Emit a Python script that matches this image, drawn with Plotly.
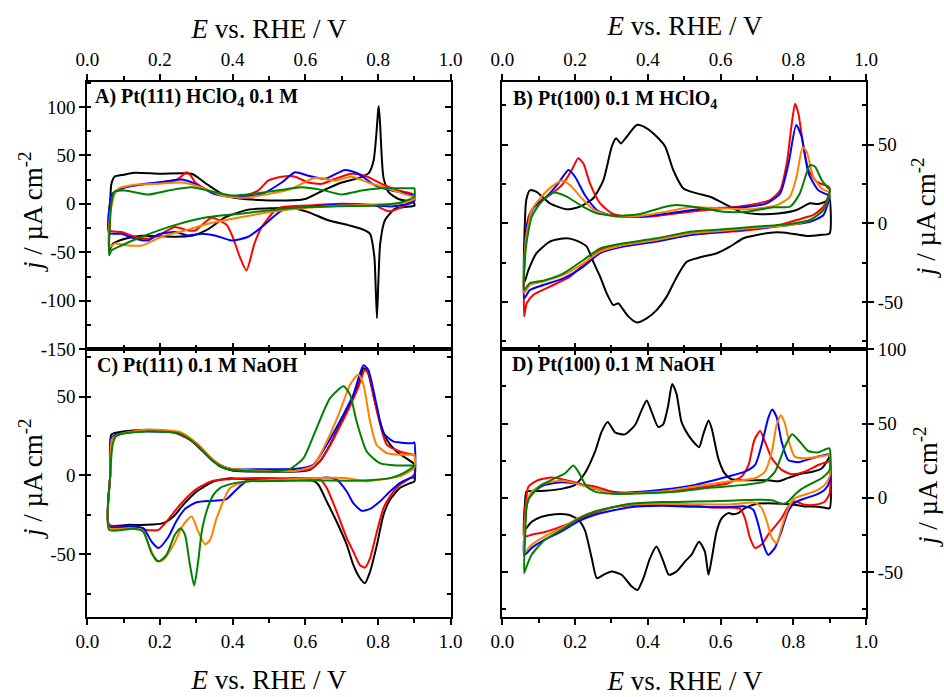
import plotly.graph_objects as go

# ---------------- Panel A: Pt(111) in 0.1 M HClO4 ----------------
A_black_E = [0.06, 0.062, 0.066, 0.075, 0.10, 0.13, 0.20, 0.287, 0.33, 0.379, 0.425, 0.52, 0.60, 0.65, 0.70, 0.75, 0.775, 0.788, 0.795, 0.80, 0.802, 0.806, 0.81, 0.815, 0.829, 0.856, 0.897, 0.90,
             0.90, 0.88, 0.847, 0.819, 0.806, 0.801, 0.797, 0.793, 0.79, 0.778, 0.755, 0.718, 0.663, 0.608, 0.562, 0.516, 0.443, 0.379, 0.333, 0.287, 0.241, 0.15, 0.104, 0.071, 0.06]
A_black_j = [-48, -20, 20, 28, 30, 32, 31, 31, 20, 8.6, 5.2, 3.4, 5, 14, 22, 27, 32, 45, 70, 95, 101, 80, 50, 27, 12, 5, 1.7, 0,
             -2, -3, -5, -17, -41, -80, -118, -80, -55, -31, -26, -22, -17, -8.6, -4, -4.5, -6, -14, -26, -33, -34, -33, -36, -41, -48]

A_red_E = [0.06, 0.062, 0.07, 0.104, 0.15, 0.195, 0.241, 0.258, 0.273, 0.285, 0.297, 0.333, 0.379, 0.425, 0.47, 0.498, 0.535, 0.572, 0.608, 0.645, 0.682, 0.727, 0.764, 0.81, 0.856, 0.897, 0.90,
           0.90, 0.865, 0.829, 0.792, 0.70, 0.608, 0.535, 0.516, 0.48, 0.46, 0.438, 0.42, 0.40, 0.384, 0.36, 0.342, 0.324, 0.297, 0.278, 0.241, 0.204, 0.168, 0.131, 0.094, 0.06]
A_red_j = [-27.5, 0, 10, 17, 20, 22, 24, 28, 32.6, 29, 22, 13.7, 8.6, 7.6, 13.7, 24, 28, 28, 22, 20.6, 25.8, 31, 29, 20.6, 13.7, 10, 8,
           5, -3.4, -7.6, -1.7, 0, -1.7, -3.4, -7, -24, -41, -68.7, -55, -34, -22, -16.5, -14.4, -19, -27.5, -27.5, -24, -31, -36, -34, -29, -27.5]

A_blue_E = [0.06, 0.062, 0.068, 0.104, 0.15, 0.195, 0.26, 0.297, 0.351, 0.406, 0.48, 0.535, 0.572, 0.608, 0.654, 0.709, 0.746, 0.792, 0.838, 0.897, 0.90,
            0.90, 0.884, 0.838, 0.79, 0.70, 0.608, 0.535, 0.48, 0.443, 0.397, 0.351, 0.315, 0.278, 0.241, 0.195, 0.168, 0.131, 0.094, 0.06]
A_blue_j = [-30, 0, 10, 17, 20, 22, 25, 20.6, 10, 6.9, 10, 22, 32.6, 29, 25.8, 35, 31, 19, 13.7, 8.6, 6,
            3, 0, -2.7, -1.7, -0.7, -3.4, -7, -24, -34, -37.8, -32.6, -31, -32.6, -29, -31.6, -37.8, -36, -31, -30]

A_orange_E = [0.06, 0.063, 0.075, 0.085, 0.131, 0.195, 0.26, 0.315, 0.37, 0.425, 0.498, 0.562, 0.627, 0.682, 0.727, 0.773, 0.829, 0.897, 0.90,
              0.90, 0.865, 0.79, 0.70, 0.608, 0.516, 0.425, 0.333, 0.269, 0.204, 0.15, 0.113, 0.076, 0.06]
A_orange_j = [-45, -10, 10, 15.5, 19.6, 20.6, 22, 17, 8.6, 6.2, 10, 15.5, 26.8, 24, 28, 22, 15.5, 7.6, 9,
              5, 0.7, -0.7, -1.7, -4, -7.6, -13.7, -20.6, -27.5, -34, -43, -43, -41, -45]

A_green_E = [0.06, 0.063, 0.068, 0.076, 0.104, 0.168, 0.223, 0.287, 0.351, 0.397, 0.47, 0.535, 0.59, 0.645, 0.70, 0.755, 0.81, 0.897, 0.90,
             0.90, 0.865, 0.79, 0.70, 0.608, 0.516, 0.425, 0.333, 0.241, 0.15, 0.094, 0.067, 0.06]
A_green_j = [-53, -15, 5, 13, 13.7, 9.6, 13.7, 17, 12, 8.6, 11, 14.4, 17, 14.4, 9.6, 13.7, 16, 16, 16,
             7.6, 1.7, -1.7, -2.4, -3.4, -6, -10, -13.7, -22, -34, -43, -48, -53]

# ---------------- Panel B: Pt(100) in 0.1 M HClO4 ----------------
B_black_E = [0.06, 0.062, 0.066, 0.076, 0.094, 0.131, 0.177, 0.214, 0.25, 0.278, 0.301, 0.313, 0.326, 0.342, 0.37, 0.397, 0.425, 0.448, 0.47, 0.498, 0.535, 0.571, 0.608, 0.654, 0.70, 0.764, 0.809, 0.846, 0.869, 0.897, 0.90,
             0.90, 0.873, 0.837, 0.791, 0.755, 0.70, 0.663, 0.626, 0.59, 0.544, 0.507, 0.48, 0.452, 0.425, 0.397, 0.37, 0.347, 0.328, 0.319, 0.305, 0.287, 0.269, 0.25, 0.232, 0.204, 0.177, 0.131, 0.094, 0.072, 0.06]
B_black_j = [-38, 0, 15, 21, 20, 12.7, 8.9, 10.6, 15.9, 27.5, 48.7, 54, 50.8, 55, 62.5, 60.4, 55, 48.7, 33.9, 22.2, 19, 16.9, 12.7, 7.4, 5.9, 6.4, 8.5, 12.7, 12.3, 14.8, 16,
             -6.4, -7.4, -8, -6.4, -5.7, -7.4, -9.5, -14.8, -19, -21.6, -24.4, -33.9, -46.6, -55, -60.4, -63, -59.3, -53.4, -50.8, -51.9, -44.5, -33.9, -24.4, -14.8, -11, -9.5, -11.6, -19, -29.6, -38]

B_red_E = [0.06, 0.062, 0.072, 0.094, 0.131, 0.168, 0.191, 0.209, 0.223, 0.241, 0.269, 0.305, 0.351, 0.425, 0.516, 0.608, 0.681, 0.736, 0.764, 0.782, 0.796, 0.805, 0.814, 0.828, 0.842, 0.864, 0.897, 0.90,
           0.90, 0.883, 0.855, 0.809, 0.773, 0.718, 0.654, 0.589, 0.516, 0.443, 0.388, 0.314, 0.269, 0.232, 0.186, 0.131, 0.085, 0.067, 0.06]
B_red_j = [-59, -17, 4.2, 12.7, 18, 25.4, 33.9, 41.3, 38, 25.4, 12.7, 5.9, 4.2, 4.7, 7.4, 9.5, 11.6, 14.8, 21, 38, 63.5, 76, 70, 48.7, 33.9, 26.5, 23.3, 22,
           20, 10.6, 5.3, 2.1, -0.4, -3.2, -4.9, -5.9, -7.4, -10.2, -12.3, -13.8, -17, -24.4, -33.9, -40.2, -45.5, -50.8, -59]

B_blue_E = [0.06, 0.063, 0.067, 0.085, 0.122, 0.154, 0.182, 0.2, 0.227, 0.26, 0.305, 0.379, 0.47, 0.562, 0.663, 0.727, 0.764, 0.787, 0.808, 0.823, 0.842, 0.869, 0.897, 0.90,
            0.90, 0.883, 0.846, 0.79, 0.70, 0.608, 0.516, 0.425, 0.333, 0.269, 0.223, 0.168, 0.113, 0.076, 0.06]
B_blue_j = [-47.6, -15, -2, 9.5, 17, 25.4, 33.9, 29.6, 18, 8.5, 4.7, 4.2, 6.8, 9.5, 10.2, 12.7, 19, 38, 62.5, 55, 31.8, 21, 18, 18,
            17, 5.3, 1, -1, -3.2, -5.3, -7.4, -11.6, -14.8, -19, -27.5, -35, -39.2, -42.4, -47.6]

B_orange_E = [0.06, 0.065, 0.081, 0.104, 0.136, 0.163, 0.186, 0.214, 0.25, 0.305, 0.379, 0.452, 0.516, 0.608, 0.681, 0.755, 0.791, 0.809, 0.826, 0.837, 0.855, 0.878, 0.897, 0.90,
              0.90, 0.883, 0.846, 0.79, 0.70, 0.608, 0.516, 0.425, 0.333, 0.269, 0.223, 0.168, 0.113, 0.076, 0.06]
B_orange_j = [-44.5, -10, 8.5, 15.9, 23.3, 27.1, 24.4, 17, 8.9, 4.7, 4.7, 7.4, 10.2, 9.5, 8.9, 11.6, 17, 29.6, 48.3, 45.5, 29.6, 22.2, 20, 20,
              19, 8.5, 2.1, -1, -2.8, -4.7, -6.4, -10.6, -13.8, -18, -25.4, -32.8, -37, -39.2, -44.5]

B_green_E = [0.06, 0.065, 0.081, 0.104, 0.14, 0.177, 0.214, 0.26, 0.315, 0.379, 0.443, 0.48, 0.535, 0.608, 0.672, 0.745, 0.791, 0.818, 0.846, 0.86, 0.878, 0.897, 0.90,
             0.90, 0.883, 0.846, 0.79, 0.70, 0.608, 0.516, 0.425, 0.333, 0.269, 0.223, 0.168, 0.113, 0.076, 0.06]
B_green_j = [-42.4, -15, 4.2, 12.7, 19.5, 17, 11.6, 6.4, 4.7, 5.9, 10.2, 11.6, 10.2, 7.4, 7.4, 10.2, 10.6, 19, 37, 36, 27.5, 22.2, 22,
             20, 8.5, 2.1, -0.4, -2.1, -3.8, -5.3, -9.5, -12.7, -15.9, -23.3, -31.8, -36.4, -38, -42.4]

# ---------------- Panel C: Pt(111) in 0.1 M NaOH ----------------
C_black_E = [0.06, 0.063, 0.066, 0.09, 0.163, 0.237, 0.283, 0.328, 0.365, 0.402, 0.484, 0.576, 0.613, 0.64, 0.668, 0.695, 0.723, 0.746, 0.76, 0.771, 0.787, 0.805, 0.824, 0.851, 0.897, 0.90,
             0.90, 0.888, 0.86, 0.833, 0.815, 0.797, 0.778, 0.764, 0.75, 0.732, 0.714, 0.686, 0.659, 0.636, 0.622, 0.53, 0.438, 0.393, 0.347, 0.301, 0.264, 0.237, 0.209, 0.163, 0.117, 0.06]
C_black_j = [-31.3, 0, 25.8, 27.5, 29, 27.5, 22.6, 13.1, 5.7, 3, 2.5, 2.5, 3.6, 8.9, 19.5, 32, 44.8, 57.5, 68, 66, 51.2, 34.3, 22.6, 15.2, 7.8, 7,
             -3.8, -4.9, -8, -15.4, -25, -44, -61, -68.3, -65, -56.7, -44, -29.2, -16.5, -5.9, -3.4, -2.7, -2.5, -1.7, -3.8, -10.2, -18.6, -26, -30.2, -31.3, -31.3, -31.3]

C_red_E = [0.06, 0.063, 0.067, 0.09, 0.163, 0.237, 0.283, 0.328, 0.365, 0.402, 0.484, 0.576, 0.613, 0.64, 0.668, 0.695, 0.723, 0.746, 0.764, 0.775, 0.787, 0.805, 0.824, 0.86, 0.897, 0.90,
           0.90, 0.888, 0.86, 0.833, 0.815, 0.797, 0.778, 0.764, 0.75, 0.732, 0.714, 0.686, 0.659, 0.641, 0.53, 0.438, 0.347, 0.301, 0.255, 0.218, 0.196, 0.163, 0.136, 0.06]
C_red_j = [-31.3, 0, 23, 26.2, 28.8, 27.5, 22.6, 13.5, 6.5, 3.5, 3, 3, 4, 9, 19, 31, 44, 56, 67, 64, 51.2, 33, 19.5, 15.2, 13.1, 13,
           0.8, -1.7, -5.9, -13.3, -20.7, -35.5, -52.5, -58.4, -56.7, -48.2, -39.8, -22.8, -8, -2.7, -1.7, -1.7, -3.4, -8.5, -18.6, -29.2, -34.5, -34.5, -32.4, -31.3]

C_blue_E = [0.06, 0.063, 0.067, 0.09, 0.163, 0.255, 0.301, 0.347, 0.393, 0.484, 0.576, 0.622, 0.659, 0.695, 0.732, 0.76, 0.773, 0.796, 0.815, 0.842, 0.897, 0.90,
            0.90, 0.888, 0.86, 0.833, 0.805, 0.778, 0.755, 0.732, 0.714, 0.686, 0.659, 0.622, 0.53, 0.438, 0.41, 0.383, 0.347, 0.301, 0.27, 0.245, 0.223, 0.196, 0.177, 0.154, 0.117, 0.06]
C_blue_j = [-32.4, 0, 24, 26.5, 28, 26.5, 19.5, 8.9, 4.2, 4, 4.2, 6.8, 19.5, 34.3, 51.2, 69.8, 67, 44.8, 26.9, 21.6, 20.5, 21,
            -1, -1.7, -4.9, -10.2, -16.5, -21.2, -22.4, -17.6, -10.2, -2.7, -1.3, -2, -3.4, -3.8, -9, -15, -16, -17, -21, -29, -39, -46, -42, -33.4, -32.4, -32.4]

C_orange_E = [0.06, 0.063, 0.068, 0.09, 0.163, 0.255, 0.301, 0.347, 0.383, 0.484, 0.576, 0.622, 0.659, 0.695, 0.723, 0.746, 0.76, 0.778, 0.796, 0.824, 0.86, 0.897, 0.90,
              0.90, 0.86, 0.805, 0.769, 0.714, 0.622, 0.53, 0.438, 0.393, 0.356, 0.338, 0.324, 0.305, 0.287, 0.264, 0.237, 0.209, 0.19, 0.173, 0.15, 0.117, 0.06]
C_orange_j = [-33.4, 0, 23, 26.2, 29, 27.5, 20.5, 9.9, 4.7, 3, 3, 6.3, 21.6, 40.6, 57.5, 63.9, 57.5, 34.3, 19.5, 14.2, 13.1, 13.1, 13,
              5, -0.6, -2.7, -3.8, -1.7, -1.7, -2.7, -3.8, -8, -27, -40.8, -43.6, -35.5, -26, -31.3, -44, -53.5, -54.1, -46, -34.5, -33.4, -33.4]

C_green_E = [0.06, 0.063, 0.07, 0.08, 0.10, 0.163, 0.255, 0.301, 0.347, 0.383, 0.484, 0.558, 0.595, 0.631, 0.668, 0.705, 0.723, 0.741, 0.769, 0.805, 0.851, 0.897, 0.90,
             0.90, 0.87, 0.833, 0.76, 0.622, 0.53, 0.438, 0.393, 0.365, 0.347, 0.328, 0.315, 0.305, 0.294, 0.281, 0.269, 0.257, 0.241, 0.218, 0.196, 0.177, 0.154, 0.127, 0.06]
C_green_j = [-34.5, 0, 20, 25, 26.6, 27.9, 26.5, 19.5, 8.9, 4.2, 2.5, 4.2, 11, 30, 49, 56.5, 51.2, 34.3, 15.2, 7.8, 6.3, 6.3, 6.3,
             6, 1.5, -1.7, -3.2, -3.2, -3.4, -3.8, -5.5, -8, -12.3, -22.8, -35.5, -54.6, -69.8, -54.6, -37.6, -33.4, -37.6, -50.3, -54.6, -49.3, -35.5, -33.8, -34.5]

# ---------------- Panel D: Pt(100) in 0.1 M NaOH ----------------
D_black_E = [0.06, 0.062, 0.066, 0.072, 0.117, 0.163, 0.20, 0.227, 0.255, 0.273, 0.29, 0.31, 0.337, 0.365, 0.383, 0.397, 0.411, 0.429, 0.443, 0.456, 0.467, 0.479, 0.493, 0.512, 0.53, 0.541, 0.553, 0.567, 0.576, 0.594, 0.612, 0.63, 0.676, 0.731, 0.759, 0.786, 0.823, 0.851, 0.878, 0.897, 0.90,
             0.90, 0.883, 0.86, 0.832, 0.804, 0.768, 0.731, 0.695, 0.667, 0.649, 0.635, 0.621, 0.603, 0.589, 0.576, 0.567, 0.557, 0.541, 0.52, 0.502, 0.479, 0.458, 0.443, 0.424, 0.406, 0.388, 0.372, 0.356, 0.328, 0.301, 0.278, 0.26, 0.246, 0.227, 0.209, 0.182, 0.145, 0.108, 0.081, 0.06]
D_black_j = [-21.7, -5, 4.2, 4.5, 4.7, 6, 8.7, 16.5, 31, 44.4, 51, 44, 42.7, 49, 59, 65.5, 57.6, 47.6, 49.8, 62, 76.6, 70, 50.9, 42, 36.4, 34, 43.1, 52, 46.5, 26.4, 16.3, 12.5, 11.8, 11.8, 11.1, 13.4, 16.3, 17.4, 19.7, 26.4, 28,
             -7, -6.5, -5.8, -5.8, -4.7, -4, -3.6, -4.3, -6.9, -10.3, -11, -10.3, -13.8, -22.8, -40.7, -51.8, -36.2, -29.5, -38.4, -42.9, -49.6, -51.8, -42.9, -32.8, -40.7, -54.1, -62, -59.7, -51.8, -49.6, -51.8, -54.1, -40.7, -21.7, -14.7, -11.4, -11, -12.7, -16.1, -21.7]

D_red_E = [0.06, 0.062, 0.066, 0.072, 0.099, 0.136, 0.173, 0.218, 0.255, 0.301, 0.347, 0.438, 0.53, 0.621, 0.658, 0.677, 0.693, 0.709, 0.722, 0.741, 0.768, 0.796, 0.832, 0.869, 0.897, 0.90,
           0.90, 0.887, 0.86, 0.832, 0.804, 0.786, 0.768, 0.75, 0.731, 0.713, 0.695, 0.681, 0.667, 0.654, 0.621, 0.576, 0.53, 0.438, 0.347, 0.301, 0.255, 0.209, 0.163, 0.117, 0.081, 0.06]
D_red_j = [-26, -10, 0, 7.6, 12, 13.6, 12, 9.2, 7.6, 4.2, 3.1, 4.2, 6.5, 9.8, 14.3, 22.1, 38.9, 44.9, 37.8, 26.6, 18.8, 15.9, 17.6, 22.1, 24.3, 24,
           3, -2.5, -4.7, -4.7, -2.5, -6, -13.6, -19.2, -24.8, -31.5, -33.7, -27, -13.6, -7.4, -6.5, -6.5, -5.1, -4.7, -5.1, -6.5, -10.3, -14.7, -19.2, -23, -24.8, -26]

D_blue_E = [0.06, 0.063, 0.067, 0.081, 0.117, 0.163, 0.209, 0.255, 0.301, 0.347, 0.438, 0.53, 0.621, 0.667, 0.695, 0.713, 0.731, 0.742, 0.754, 0.768, 0.786, 0.814, 0.851, 0.897, 0.90,
            0.90, 0.887, 0.86, 0.832, 0.804, 0.786, 0.768, 0.75, 0.731, 0.718, 0.704, 0.69, 0.667, 0.621, 0.53, 0.438, 0.347, 0.255, 0.209, 0.163, 0.117, 0.081, 0.06]
D_blue_j = [-38.6, -15, -5, 3.1, 8.7, 10.5, 9.2, 6, 3.6, 3.6, 5.4, 8.7, 14.3, 17.6, 22.1, 35.5, 53.4, 59.4, 54.4, 37.8, 25.5, 24, 26.6, 29.3, 29,
            11.2, 5.6, 1.8, -0.4, -3.3, -9, -22.3, -33.5, -38.4, -31.5, -18.1, -8, -5.8, -6.3, -6, -5.4, -6.5, -11.4, -15.9, -22.6, -28.2, -33.7, -38.6]

D_orange_E = [0.06, 0.063, 0.068, 0.081, 0.117, 0.163, 0.209, 0.255, 0.301, 0.347, 0.438, 0.53, 0.621, 0.695, 0.722, 0.741, 0.754, 0.766, 0.777, 0.791, 0.804, 0.832, 0.897, 0.90,
              0.90, 0.887, 0.86, 0.832, 0.804, 0.786, 0.768, 0.754, 0.741, 0.727, 0.713, 0.695, 0.621, 0.53, 0.438, 0.347, 0.255, 0.209, 0.163, 0.117, 0.081, 0.06]
D_orange_j = [-37.1, -15, -3, 4.2, 9.8, 11.4, 9.2, 6, 3.1, 3.1, 4.2, 7.6, 10.9, 13.2, 17.6, 31, 48.9, 55.6, 50, 35.5, 27.7, 26.6, 28.8, 29,
              14.5, 8.9, 4.5, 2.2, -0.4, -6.7, -20.1, -30.6, -26.8, -15.6, -6.7, -3.3, -4.5, -4.3, -4, -4.5, -9.2, -13.6, -20.3, -25.9, -31.5, -37.1]

D_green_E = [0.06, 0.063, 0.066, 0.072, 0.081, 0.108, 0.145, 0.173, 0.195, 0.209, 0.232, 0.255, 0.301, 0.392, 0.484, 0.576, 0.667, 0.722, 0.75, 0.777, 0.797, 0.814, 0.841, 0.869, 0.899,
             0.90, 0.878, 0.851, 0.823, 0.804, 0.786, 0.773, 0.741, 0.695, 0.621, 0.53, 0.438, 0.347, 0.255, 0.209, 0.163, 0.117, 0.081, 0.067, 0.06]
D_green_j = [-50.7, -25, -8, -1, 2, 8.7, 13.2, 16.5, 21.7, 17.6, 7.6, 4.2, 2.7, 3, 4.2, 6.9, 8.7, 11, 17.6, 34.4, 42.7, 38.9, 31.5, 30.6, 33.3,
             18.8, 13.2, 9.8, 6, 2, -2.5, -4.2, -1.6, -1.3, -2, -2.5, -2.9, -4.2, -9.2, -14.1, -21.5, -28.2, -38.2, -46, -50.7]

# ---------------- Axis ticks and texts ----------------
E_TICKS = [0.0, 0.2, 0.4, 0.6, 0.8, 1.0]
E_TICK_TEXT = ["0.0", "0.2", "0.4", "0.6", "0.8", "1.0"]
A_J_TICKS = [-150, -100, -50, 0, 50, 100]
A_J_TEXT = ["-150", "-100", "-50", "0", "50", "100"]
B_J_TICKS = [-50, 0, 50]
B_J_TEXT = ["-50", "0", "50"]
C_J_TICKS = [-50, 0, 50]
C_J_TEXT = ["-50", "0", "50"]
D_J_TICKS = [-50, 0, 50, 100]
D_J_TEXT = ["-50", "0", "50", "100"]

A_J_RANGE = [-150, 126]
B_J_RANGE = [-80, 90]
C_J_RANGE = [-89.5, 80]
D_J_RANGE = [-80, 100]

PANEL_TITLES = ["<b>A) Pt(111) HClO<sub>4</sub> 0.1 M</b>",
                "<b>B) Pt(100) 0.1 M HClO<sub>4</sub></b>",
                "<b>C) Pt(111) 0.1 M NaOH</b>",
                "<b>D) Pt(100) 0.1 M NaOH</b>"]
X_TITLE = "<i>E</i> vs. RHE / V"
Y_TITLE = "<i>j</i> / µA cm<sup>-2</sup>"

FONT = "Liberation Serif"
COLORS = {"black": "#000000", "red": "#FF0000", "blue": "#0000FF",
          "orange": "#FF8000", "green": "#008000"}

W, H = 944, 697
LEFT_DOM = [87.3 / W, 450.7 / W]
RIGHT_DOM = [502.3 / W, 866.0 / W]
TOP_DOM = [1 - 349.2 / H, 1 - 81.7 / H]
BOT_DOM = [1 - 616.7 / H, 1 - 349.2 / H]

panels = [
    dict(n=1, xd=LEFT_DOM, yd=TOP_DOM, xside="top", yside="left", yr=A_J_RANGE,
         yt=A_J_TICKS, ytt=A_J_TEXT,
         curves=[(A_black_E, A_black_j, "black"), (A_red_E, A_red_j, "red"),
                 (A_blue_E, A_blue_j, "blue"), (A_orange_E, A_orange_j, "orange"),
                 (A_green_E, A_green_j, "green")]),
    dict(n=2, xd=RIGHT_DOM, yd=TOP_DOM, xside="top", yside="right", yr=B_J_RANGE,
         yt=B_J_TICKS, ytt=B_J_TEXT,
         curves=[(B_black_E, B_black_j, "black"), (B_red_E, B_red_j, "red"),
                 (B_blue_E, B_blue_j, "blue"), (B_orange_E, B_orange_j, "orange"),
                 (B_green_E, B_green_j, "green")]),
    dict(n=3, xd=LEFT_DOM, yd=BOT_DOM, xside="bottom", yside="left", yr=C_J_RANGE,
         yt=C_J_TICKS, ytt=C_J_TEXT,
         curves=[(C_black_E, C_black_j, "black"), (C_red_E, C_red_j, "red"),
                 (C_blue_E, C_blue_j, "blue"), (C_orange_E, C_orange_j, "orange"),
                 (C_green_E, C_green_j, "green")]),
    dict(n=4, xd=RIGHT_DOM, yd=BOT_DOM, xside="bottom", yside="right", yr=D_J_RANGE,
         yt=D_J_TICKS, ytt=D_J_TEXT,
         curves=[(D_black_E, D_black_j, "black"), (D_red_E, D_red_j, "red"),
                 (D_blue_E, D_blue_j, "blue"), (D_orange_E, D_orange_j, "orange"),
                 (D_green_E, D_green_j, "green")]),
]

tickfont = dict(family=FONT, size=19, color="black")
fig = go.Figure()
layout = dict(width=W, height=H, margin=dict(l=0, r=0, t=0, b=0, autoexpand=False),
              template="none", font=dict(family=FONT, color="black"),
              paper_bgcolor="white", plot_bgcolor="rgba(0,0,0,0)", showlegend=False)


def ax_name(kind, n):
    return kind + ("" if n == 1 else str(n))


def ax_key(kind, n):
    return kind + "axis" + ("" if n == 1 else str(n))


common = dict(showline=True, linewidth=2, linecolor="black", showgrid=False,
              zeroline=False, fixedrange=True, automargin=False)

for p in panels:
    n = p["n"]
    xa, ya = ax_name("x", n), ax_name("y", n)
    mx = my = n + 4          # mirrored axes for the opposite frame sides
    layout[ax_key("x", n)] = dict(
        domain=p["xd"], range=[0, 1], side=p["xside"], anchor=ya,
        tickmode="array", tickvals=E_TICKS, ticktext=E_TICK_TEXT,
        ticks="outside", ticklen=6, tickwidth=1.5, tickcolor="black",
        minor=dict(tickmode="linear", tick0=0, dtick=0.1, ticks="outside",
                   ticklen=4, tickwidth=1.5, tickcolor="black"),
        tickfont=tickfont, **common)
    layout[ax_key("y", n)] = dict(
        domain=p["yd"], range=p["yr"], side=p["yside"], anchor=xa,
        tickmode="array", tickvals=p["yt"], ticktext=p["ytt"],
        ticks="outside", ticklen=6, tickwidth=1.5, tickcolor="black",
        minor=dict(tickmode="linear", tick0=0, dtick=25, ticks="inside",
                   ticklen=4, tickwidth=1.5, tickcolor="black"),
        tickfont=tickfont, **common)
    layout[ax_key("x", mx)] = dict(
        overlaying=xa, anchor=ya, range=[0, 1],
        side="bottom" if p["xside"] == "top" else "top",
        tickmode="linear", tick0=0, dtick=0.2, ticks="inside", ticklen=6,
        tickwidth=1.5, tickcolor="black", showticklabels=False,
        minor=dict(tickmode="linear", tick0=0, dtick=0.1, ticks="inside",
                   ticklen=4, tickwidth=1.5, tickcolor="black"), **common)
    layout[ax_key("y", my)] = dict(
        overlaying=ya, anchor=xa, range=p["yr"],
        side="right" if p["yside"] == "left" else "left",
        tickmode="linear", tick0=0, dtick=50, ticks="inside", ticklen=6,
        tickwidth=1.5, tickcolor="black", showticklabels=False,
        minor=dict(tickmode="linear", tick0=0, dtick=25, ticks="inside",
                   ticklen=4, tickwidth=1.5, tickcolor="black"), **common)
    # placeholder traces so the mirrored axes are drawn
    fig.add_trace(go.Scatter(x=[None], y=[None], xaxis=ax_name("x", mx), yaxis=ya,
                             mode="lines", hoverinfo="skip", showlegend=False))
    fig.add_trace(go.Scatter(x=[None], y=[None], xaxis=xa, yaxis=ax_name("y", my),
                             mode="lines", hoverinfo="skip", showlegend=False))
    for E, j, c in p["curves"]:
        fig.add_trace(go.Scatter(
            x=E, y=j, xaxis=xa, yaxis=ya, mode="lines",
            line=dict(color=COLORS[c], width=2, shape="spline", smoothing=0.6),
            hoverinfo="skip", showlegend=False))

# full-page overlay (pixel coordinates) for the horizontal texts
layout["xaxis9"] = dict(domain=[0, 1], range=[0, W], anchor="y9", visible=False,
                        fixedrange=True, automargin=False)
layout["yaxis9"] = dict(domain=[0, 1], range=[H, 0], anchor="x9", visible=False,
                        fixedrange=True, automargin=False)

x_title_pos = [(269, 31), (685, 28), (269, 682), (685, 683)]
fig.add_trace(go.Scatter(
    x=[p[0] for p in x_title_pos], y=[p[1] for p in x_title_pos],
    text=[X_TITLE] * 4, mode="text", textposition="middle center",
    textfont=dict(family=FONT, size=27, color="black"),
    xaxis="x9", yaxis="y9", hoverinfo="skip", showlegend=False, cliponaxis=False))

label_pos = [(95, 98), (513, 100), (97, 367), (512, 366)]
fig.add_trace(go.Scatter(
    x=[p[0] for p in label_pos], y=[p[1] for p in label_pos],
    text=PANEL_TITLES, mode="text", textposition="middle right",
    textfont=dict(family=FONT, size=20, color="black"),
    xaxis="x9", yaxis="y9", hoverinfo="skip", showlegend=False, cliponaxis=False))

# rotated current-density titles
annotations = []
for (cx, cy) in [(31, 212), (31, 479), (924, 218), (926, 487)]:
    annotations.append(dict(text=Y_TITLE, x=cx / W, y=1 - cy / H, xref="paper", yref="paper",
                            xanchor="center", yanchor="middle", textangle=-90,
                            showarrow=False, font=dict(family=FONT, size=27, color="black")))
layout["annotations"] = annotations

fig.update_layout(**layout)
fig.write_html("out.html")
